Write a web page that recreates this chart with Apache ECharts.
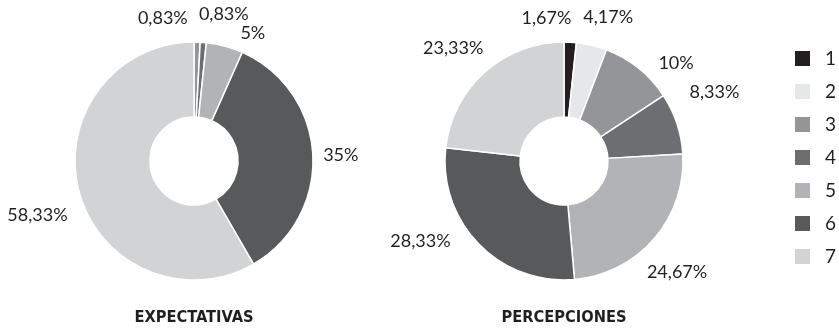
<!DOCTYPE html>
<html>
<head>
<meta charset="utf-8">
<script src="https://cdn.jsdelivr.net/npm/echarts@6/dist/echarts.min.js"></script>
<style>
  html, body { margin: 0; padding: 0; background: #ffffff; }
  #chart { width: 839px; height: 331px; }
</style>
</head>
<body>
<div id="chart"></div>
<script>
// Response categories (1-7) and the share of answers in each group, in percent
const categories = ['1', '2', '3', '4', '5', '6', '7'];
const expectativas = [0, 0, 0.83, 0.83, 5, 35, 58.33];
const percepciones = [1.67, 4.17, 10, 8.33, 24.67, 28.33, 23.33];
const chartTitles = ['EXPECTATIVAS', 'PERCEPCIONES'];

const palette = ['#231f20', '#e6e7e8', '#939598', '#6d6e71', '#b1b3b6', '#58595b', '#d1d3d4'];
const textColor = '#231f20';
const labelFont = 'Lato, "Open Sans", sans-serif';
const titleFont = '"DejaVu Sans Condensed", "Open Sans", sans-serif';

// Donut geometry
const centers = [[194, 161], [564, 161]];
const innerR = 44;
const outerR = 119;
const labelGap = 14;

// Per-category label adjustment [turn in degrees, radial push in px],
// used to keep the small top labels apart
const labelTweaks = [
  [[0, 0], [0, 0], [-13.8, 1], [7, 5], [9.7, -3.6], [0.6, -4], [-4.2, 2]],
  [[-10, 1], [3.6, 3.7], [10, -2], [-6.3, 7], [3.7, -1], [15.2, 1.6], [-2.7, -1]]
];

function fmtPct(v) {
  return String(v).replace('.', ',') + '%';
}

// Keep only non-empty slices; remember which category and mid-angle each one has
const sliceMeta = [[], []];
function buildData(values, s) {
  const total = values.reduce(function (a, b) { return a + b; }, 0);
  let acc = 0;
  const out = [];
  values.forEach(function (v, i) {
    if (v > 0) {
      sliceMeta[s].push({ cat: i, mid: (acc + v / 2) / total * 360 });
      out.push({ name: categories[i], value: v, itemStyle: { color: palette[i] } });
    }
    acc += v;
  });
  return out;
}

function placeLabel(params) {
  const s = params.seriesIndex;
  const meta = sliceMeta[s][params.dataIndex];
  if (!meta) return {};
  const tw = labelTweaks[s][meta.cat];
  const ang = (meta.mid + tw[0]) * Math.PI / 180;
  const sx = Math.sin(ang), cy = -Math.cos(ang);
  const hw = params.labelRect.width / 2;
  const hh = 7;
  const ext = Math.abs(hw * sx) + Math.abs(hh * cy);
  const dist = outerR + labelGap + tw[1] + ext;
  return {
    x: centers[s][0] + dist * sx,
    y: centers[s][1] + dist * cy,
    align: 'center',
    verticalAlign: 'middle'
  };
}

function donut(values, s) {
  return {
    type: 'pie',
    center: centers[s],
    radius: [innerR, outerR],
    startAngle: 90,
    clockwise: true,
    avoidLabelOverlap: false,
    itemStyle: { borderColor: '#ffffff', borderWidth: 1.5 },
    label: {
      show: true,
      position: 'outside',
      formatter: function (p) { return fmtPct(p.value); },
      color: textColor,
      fontFamily: labelFont,
      fontSize: 18
    },
    labelLine: { show: false },
    labelLayout: placeLabel,
    emphasis: { disabled: true },
    data: buildData(values, s)
  };
}

const chart = echarts.init(document.getElementById('chart'), null, { renderer: 'canvas' });
chart.setOption({
  animation: false,
  title: chartTitles.map(function (t, s) {
    return {
      text: t, left: centers[s][0], top: 310, textAlign: 'center', padding: 0,
      textStyle: { fontFamily: titleFont, fontWeight: 'bold', fontSize: 16.3, color: textColor }
    };
  }),
  legend: {
    orient: 'vertical',
    left: 793,
    top: 49,
    padding: 0,
    itemWidth: 17,
    itemHeight: 17,
    itemGap: 14,
    icon: 'rect',
    data: categories,
    selectedMode: false,
    textStyle: { fontFamily: labelFont, fontSize: 19, color: textColor, padding: [0, 0, 0, 9] }
  },
  series: [donut(expectativas, 0), donut(percepciones, 1)]
});
</script>
</body>
</html>
